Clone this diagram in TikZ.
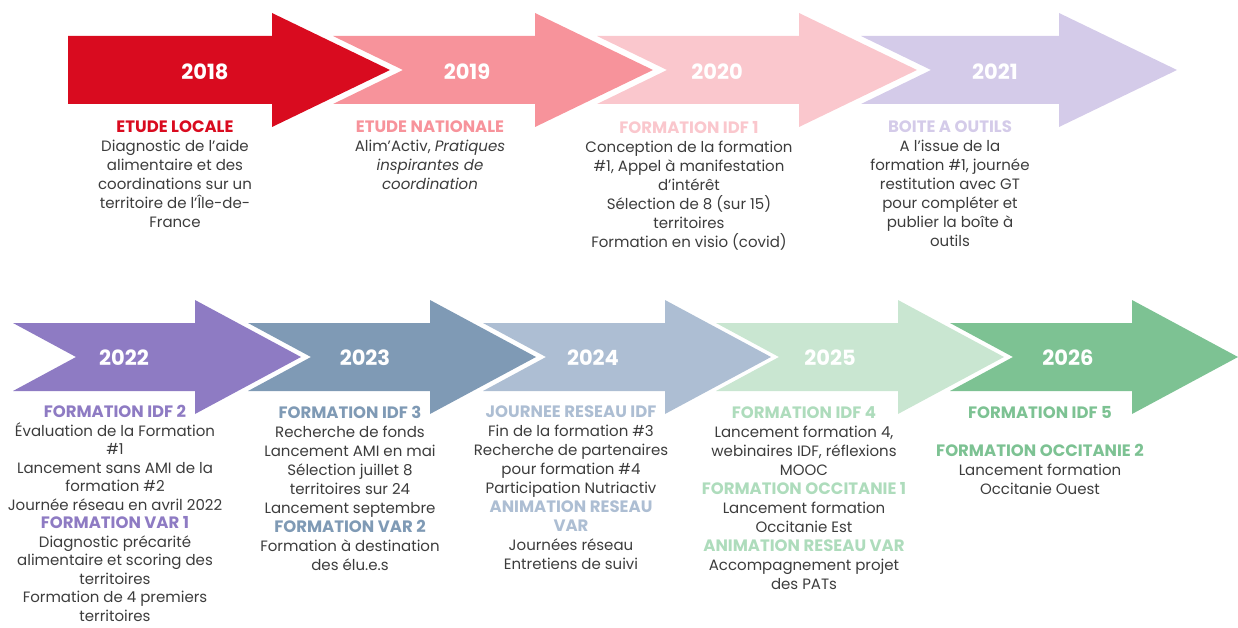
\documentclass[tikz,border=0pt]{standalone}
\usepackage{fontspec}
\setmainfont{Poppins}
\usepackage{tikz}
\usetikzlibrary{positioning}
\definecolor{c18}{HTML}{D90B1F}
\definecolor{c19}{HTML}{F7939B}
\definecolor{c20}{HTML}{FAC7CD}
\definecolor{c21}{HTML}{D4CBE9}
\definecolor{c22}{HTML}{8E7BC3}
\definecolor{c23}{HTML}{7F9AB5}
\definecolor{c24}{HTML}{ADBED3}
\definecolor{c25}{HTML}{C9E6D1}
\definecolor{h25}{HTML}{AEDCBC}
\definecolor{c26}{HTML}{7DC293}
\definecolor{txtgray}{HTML}{3C3C3C}
\newcommand{\hdr}[2]{\textcolor{#1}{\fontsize{16.5}{19}\selectfont\bfseries #2}}

\begin{document}
\begin{tikzpicture}[x=1pt,y=-1pt,
    yearlbl/.style={text=white,font=\fontsize{21}{24}\selectfont\bfseries},
    coltxt/.style={anchor=north,align=center,inner sep=0pt,text=txtgray,
      font=\fontsize{15}{19}\selectfont}]
      \useasboundingbox (0,0) rectangle (1238,628);

      % top row
      \fill[c18] (68,36) -- ++(204,0) -- ++(0,-23) -- ++(118,57) -- ++(-118,57) -- ++(0,-23) -- ++(-204,0) -- cycle;
      \fill[c19] (333,36) -- ++(202,0) -- ++(0,-23) -- ++(118,57) -- ++(-118,57) -- ++(0,-23) -- ++(-202,0) -- ++(70,-34) -- cycle;
      \fill[c20] (597,36) -- ++(202,0) -- ++(0,-23) -- ++(118,57) -- ++(-118,57) -- ++(0,-23) -- ++(-202,0) -- ++(70,-34) -- cycle;
      \fill[c21] (861,36) -- ++(198,0) -- ++(0,-23) -- ++(118,57) -- ++(-118,57) -- ++(0,-23) -- ++(-198,0) -- ++(70,-34) -- cycle;

      \node[yearlbl] (y2018) at (205,72) {2018};
      \node[yearlbl] (y2019) at (467,72) {2019};
      \node[yearlbl] (y2020) at (717,72) {2020};
      \node[yearlbl] (y2021) at (995,72) {2021};

      \node[coltxt] (t2018) at (175,121) {\hdr{c18}{ETUDE LOCALE}\\Diagnostic de l’aide\\alimentaire et des\\coordinations sur un\\territoire de l’Île-de-\\France};
      \node[coltxt] (t2019) at (430,121) {\hdr{c19}{ETUDE NATIONALE}\\Alim’Activ, \textit{Pratiques}\\\textit{inspirantes de}\\\textit{coordination}};
      \node[coltxt] (t2020) at (689,121) {\hdr{c20}{FORMATION IDF 1}\\Conception de la formation\\\#1, Appel à manifestation\\d’intérêt\\Sélection de 8 (sur 15)\\territoires\\Formation en visio (covid)};
      \node[coltxt] (t2021) at (950,121) {\hdr{c21}{BOITE A OUTILS}\\A l’issue de la\\formation \#1, journée\\restitution avec GT\\pour compléter et\\publier la boîte à\\outils};

      % bottom row
      \fill[c22] (13,323) -- ++(182,0) -- ++(0,-23) -- ++(106,57) -- ++(-106,57) -- ++(0,-23) -- ++(-182,0) -- ++(63,-34) -- cycle;
      \fill[c23] (248,323) -- ++(182,0) -- ++(0,-23) -- ++(106,57) -- ++(-106,57) -- ++(0,-23) -- ++(-182,0) -- ++(63,-34) -- cycle;
      \fill[c24] (483,323) -- ++(182,0) -- ++(0,-23) -- ++(106,57) -- ++(-106,57) -- ++(0,-23) -- ++(-182,0) -- ++(63,-34) -- cycle;
      \fill[c25] (716,323) -- ++(182,0) -- ++(0,-23) -- ++(106,57) -- ++(-106,57) -- ++(0,-23) -- ++(-182,0) -- ++(63,-34) -- cycle;
      \fill[c26] (950,323) -- ++(182,0) -- ++(0,-23) -- ++(106,57) -- ++(-106,57) -- ++(0,-23) -- ++(-182,0) -- ++(63,-34) -- cycle;

      \node[yearlbl] (y2022) at (124,358) {2022};
      \node[yearlbl] (y2023) at (365,358) {2023};
      \node[yearlbl] (y2024) at (593,358) {2024};
      \node[yearlbl] (y2025) at (830,358) {2025};
      \node[yearlbl] (y2026) at (1068,358) {2026};

      \node[coltxt,font=\fontsize{15}{18.5}\selectfont] (t2022) at (115,405) {\hdr{c22}{FORMATION IDF 2}\\Évaluation de la Formation\\\#1\\Lancement sans AMI de la\\formation \#2\\Journée réseau en avril 2022\\\hdr{c22}{FORMATION VAR 1}\\Diagnostic précarité\\alimentaire et scoring des\\territoires\\Formation de 4 premiers\\territoires};
      \node[coltxt] (t2023) at (350,406) {\hdr{c23}{FORMATION IDF 3}\\Recherche de fonds\\Lancement AMI en mai\\Sélection juillet 8\\territoires sur 24\\Lancement septembre\\\hdr{c23}{FORMATION VAR 2}\\Formation à destination\\des élu.e.s};
      \node[coltxt] (t2024) at (571,406) {\hdr{c24}{JOURNEE RESEAU IDF}\\Fin de la formation \#3\\Recherche de partenaires\\pour formation \#4\\Participation Nutriactiv\\\hdr{c24}{ANIMATION RESEAU}\\\hdr{c24}{VAR}\\Journées réseau\\Entretiens de suivi};
      \node[coltxt] (t2025) at (804,406) {\hdr{h25}{FORMATION IDF 4}\\Lancement formation 4,\\webinaires IDF, réflexions\\MOOC\\\hdr{h25}{FORMATION OCCITANIE 1}\\Lancement formation\\Occitanie Est\\\hdr{h25}{ANIMATION RESEAU VAR}\\Accompagnement projet\\des PATs};
      \node[coltxt] (t2026) at (1040,406) {\hdr{c26}{FORMATION IDF 5}\\[19pt]\hdr{c26}{FORMATION OCCITANIE 2}\\Lancement formation\\Occitanie Ouest};
    \end{tikzpicture}
\end{document}
